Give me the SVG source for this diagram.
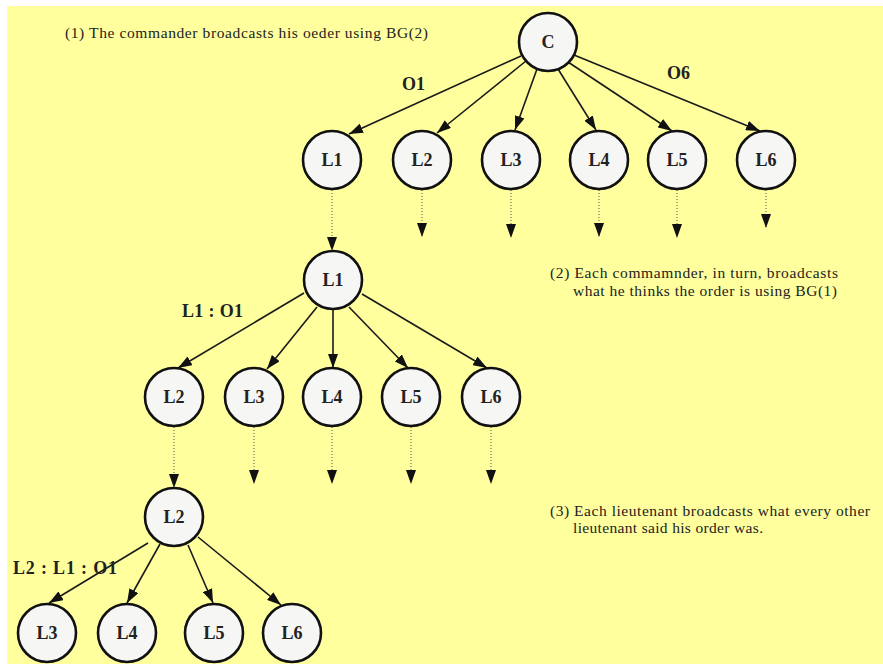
<svg xmlns="http://www.w3.org/2000/svg" width="883" height="664" viewBox="0 0 883 664">
  <defs>
    <marker id="arrow" viewBox="0 0 14 10" markerWidth="14" markerHeight="10" markerUnits="userSpaceOnUse" refX="14" refY="5" orient="auto">
      <path d="M0,0 L14,5 L0,10 z" fill="#111"/>
    </marker>
    <marker id="arrow-dot" viewBox="0 0 14 10" markerWidth="14" markerHeight="10" markerUnits="userSpaceOnUse" refX="14" refY="5" orient="auto">
      <path d="M0,0 L14,5 L0,10 z" fill="#111"/>
    </marker>
  </defs>
  <style>
    .node circle { fill: #f6f6f4; stroke: #111; stroke-width: 2.6; }
    .node text { font-family: "Liberation Serif", "Times New Roman", serif; font-weight: bold; font-size: 18px; fill: #222; text-anchor: middle; }
    .edge { stroke: #1a1a1a; stroke-width: 1.6; fill: none; marker-end: url(#arrow); }
    .dot { stroke: #555; stroke-width: 1; stroke-dasharray: 1 2; fill: none; marker-end: url(#arrow-dot); }
    .elabel { font-family: "Liberation Serif", "Times New Roman", serif; font-weight: bold; font-size: 18px; fill: #222; }
    .note { font-family: "Liberation Serif", "Times New Roman", serif; font-size: 15.5px; fill: #222; }
  </style>

  <!-- page background -->
  <rect x="0" y="0" width="883" height="664" fill="#ffffff"/>
  <rect x="7" y="6" width="876" height="658" fill="#ffff9e"/>

  <!-- notes -->
  <g id="notes">
    <text class="note" x="65" y="38" textLength="363" lengthAdjust="spacing">(1) The commander broadcasts his oeder using BG(2)</text>
    <text class="note" x="550" y="278" textLength="288" lengthAdjust="spacing">(2) Each commamnder, in turn, broadcasts</text>
    <text class="note" x="573" y="296" textLength="264" lengthAdjust="spacing">what he thinks the order is using BG(1)</text>
    <text class="note" x="550" y="516" textLength="320" lengthAdjust="spacing">(3) Each lieutenant broadcasts what every other</text>
    <text class="note" x="573" y="533" textLength="190" lengthAdjust="spacing">lieutenant said his order was.</text>
  </g>

  <!-- connectors -->
  <g id="connectors">
    <!-- commander to lieutenants -->
    <line class="edge" x1="521" y1="56" x2="349" y2="134"/>
    <line class="edge" x1="526" y1="61" x2="437" y2="133"/>
    <line class="edge" x1="537" y1="69" x2="515" y2="130"/>
    <line class="edge" x1="558" y1="69" x2="596" y2="130"/>
    <line class="edge" x1="568" y1="62" x2="672" y2="131"/>
    <line class="edge" x1="574" y1="55" x2="760" y2="131"/>
    <!-- first row continuations -->
    <line class="dot" x1="332" y1="190" x2="332" y2="251"/>
    <line class="dot" x1="422" y1="190" x2="422" y2="237"/>
    <line class="dot" x1="511" y1="190" x2="511" y2="238"/>
    <line class="dot" x1="599" y1="190" x2="599" y2="237"/>
    <line class="dot" x1="677" y1="190" x2="677" y2="238"/>
    <line class="dot" x1="766" y1="190" x2="766" y2="228"/>
    <!-- L1 relays -->
    <line class="edge" x1="304" y1="293" x2="178" y2="368"/>
    <line class="edge" x1="317" y1="307" x2="267" y2="369"/>
    <line class="edge" x1="333" y1="310" x2="333" y2="368"/>
    <line class="edge" x1="349" y1="307" x2="408" y2="368"/>
    <line class="edge" x1="362" y1="294" x2="487" y2="368"/>
    <!-- second row continuations -->
    <line class="dot" x1="174" y1="427" x2="174" y2="488"/>
    <line class="dot" x1="254" y1="427" x2="254" y2="484"/>
    <line class="dot" x1="332" y1="427" x2="332" y2="484"/>
    <line class="dot" x1="411" y1="427" x2="411" y2="484"/>
    <line class="dot" x1="491" y1="427" x2="491" y2="484"/>
    <!-- L2 relays -->
    <line class="edge" x1="148" y1="543" x2="49" y2="603"/>
    <line class="edge" x1="160" y1="544" x2="127" y2="603"/>
    <line class="edge" x1="188" y1="545" x2="213" y2="603"/>
    <line class="edge" x1="198" y1="537" x2="281" y2="605"/>
  </g>

  <!-- edge labels -->
  <g id="edge-labels">
    <text class="elabel" x="402" y="90">O1</text>
    <text class="elabel" x="667" y="79">O6</text>
    <text class="elabel" x="182" y="317" textLength="61" lengthAdjust="spacing">L1 : O1</text>
    <text class="elabel" x="13" y="574" textLength="104" lengthAdjust="spacing">L2 : L1 : O1</text>
  </g>

  <!-- commander -->
  <g id="C" class="node"><circle cx="548" cy="42" r="29"/><text x="548" y="48">C</text></g>

  <!-- first row -->
  <g id="r1-L1" class="node"><circle cx="332" cy="160" r="29"/><text x="332" y="166">L1</text></g>
  <g id="r1-L2" class="node"><circle cx="422" cy="160" r="29"/><text x="422" y="166">L2</text></g>
  <g id="r1-L3" class="node"><circle cx="511" cy="160" r="29"/><text x="511" y="166">L3</text></g>
  <g id="r1-L4" class="node"><circle cx="599" cy="160" r="29"/><text x="599" y="166">L4</text></g>
  <g id="r1-L5" class="node"><circle cx="677" cy="160" r="29"/><text x="677" y="166">L5</text></g>
  <g id="r1-L6" class="node"><circle cx="766" cy="160" r="29"/><text x="766" y="166">L6</text></g>

  <!-- L1 broadcast -->
  <g id="r2-L1" class="node"><circle cx="333" cy="280" r="29"/><text x="333" y="286">L1</text></g>
  <g id="r3-L2" class="node"><circle cx="174" cy="397" r="29"/><text x="174" y="403">L2</text></g>
  <g id="r3-L3" class="node"><circle cx="254" cy="397" r="29"/><text x="254" y="403">L3</text></g>
  <g id="r3-L4" class="node"><circle cx="332" cy="397" r="29"/><text x="332" y="403">L4</text></g>
  <g id="r3-L5" class="node"><circle cx="411" cy="397" r="29"/><text x="411" y="403">L5</text></g>
  <g id="r3-L6" class="node"><circle cx="491" cy="397" r="29"/><text x="491" y="403">L6</text></g>

  <!-- L2 broadcast -->
  <g id="r4-L2" class="node"><circle cx="174" cy="517" r="29"/><text x="174" y="523">L2</text></g>
  <g id="r5-L3" class="node"><circle cx="47" cy="633" r="29"/><text x="47" y="639">L3</text></g>
  <g id="r5-L4" class="node"><circle cx="127" cy="633" r="29"/><text x="127" y="639">L4</text></g>
  <g id="r5-L5" class="node"><circle cx="214" cy="633" r="29"/><text x="214" y="639">L5</text></g>
  <g id="r5-L6" class="node"><circle cx="292" cy="633" r="29"/><text x="292" y="639">L6</text></g>
</svg>
